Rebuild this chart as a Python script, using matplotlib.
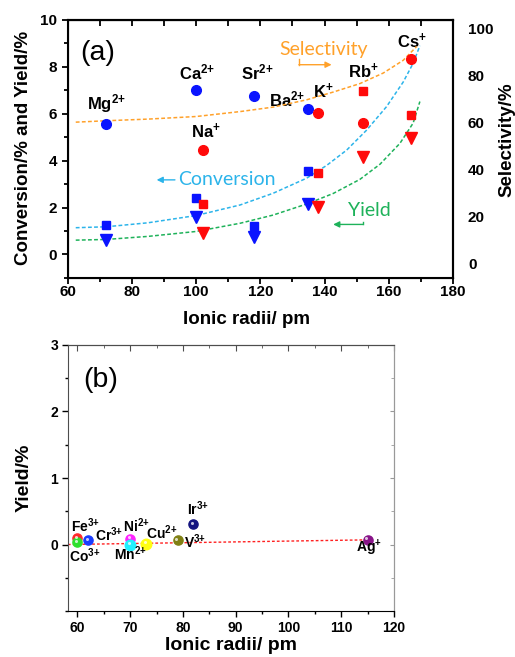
import numpy as np
import matplotlib
matplotlib.use("Agg")
import matplotlib.pyplot as plt
from matplotlib.ticker import MultipleLocator
from matplotlib.transforms import ScaledTranslation

plt.rcParams["font.family"] = ["Liberation Sans", "DejaVu Sans"]
plt.rcParams["mathtext.fontset"] = "custom"
plt.rcParams["mathtext.rm"] = "Liberation Sans:bold"
plt.rcParams["mathtext.it"] = "Liberation Sans:bold"
plt.rcParams["mathtext.bf"] = "Liberation Sans:bold"

# (a) alkaline-earth ions (blue): Mg, Ca, Sr, Ba
ae_ions = ["Mg$^{2{+}}$", "Ca$^{2{+}}$", "Sr$^{2{+}}$", "Ba$^{2{+}}$"]
ae_radii = [72, 100, 118, 135]
ae_conversion = [1.24, 2.39, 1.23, 3.54]
ae_yield = [0.63, 1.60, 0.75, 2.16]
ae_selectivity = [59.3, 73.6, 71.3, 65.8]

# (a) alkali ions (red): Na, K, Rb, Cs
am_ions = ["Na$^{{+}}$", "K$^{{+}}$", "Rb$^{{+}}$", "Cs$^{{+}}$"]
am_radii = [102, 138, 152, 167]
am_conversion = [2.16, 3.49, 6.95, 5.96]
am_yield = [0.92, 2.03, 4.16, 4.97]
am_selectivity = [48.2, 63.8, 59.6, 86.9]

# trend curves, points
sel_trend_x = [62.5, 72, 85, 100, 113.7, 124, 134.4, 142.7, 151, 158.3, 164.5, 168.7]
sel_trend_y = [60.0, 60.6, 61.3, 62.4, 64.5, 66.4, 69.5, 72.8, 76.4, 80.9, 86.3, 92.2]
conv_trend_x = [62.5, 72, 85, 100, 113.7, 124, 134.4, 140.7, 146.9, 153.1, 159.3, 164.5, 167.6, 169.7]
conv_trend_y = [1.14, 1.18, 1.35, 1.66, 2.11, 2.61, 3.25, 3.80, 4.45, 5.30, 6.30, 7.35, 8.15, 8.90]
yield_trend_x = [62.5, 72, 85, 100, 113.7, 124, 134.4, 142.7, 151, 157.3, 163.5, 167.6, 169.7]
yield_trend_y = [0.61, 0.64, 0.77, 0.98, 1.33, 1.68, 2.15, 2.60, 3.20, 3.85, 4.74, 5.60, 6.52]

# (b) other metal ions
tm_ions = ["Fe$^{3{+}}$", "Co$^{3{+}}$", "Cr$^{3{+}}$", "Ni$^{2{+}}$", "Mn$^{2{+}}$",
           "Cu$^{2{+}}$", "V$^{3{+}}$", "Ir$^{3{+}}$", "Ag$^{{+}}$"]
tm_radii = [60, 60, 62, 70, 70, 73, 79, 82, 115]
tm_yield = [0.10, 0.04, 0.065, 0.09, 0.0, 0.015, 0.065, 0.31, 0.075]
tm_colors = ["#ff2a2a", "#2ee02e", "#1a3cff", "#ff22ff", "#22f0ff",
             "#ffff14", "#808014", "#141480", "#881488"]
tm_fit_x = [58.2, 115]
tm_fit_y = [0.0, 0.07]

BLUE = "#0a14ff"
RED = "#ff0a0a"
ORANGE = "#ffa12a"
CYAN = "#2cb4ea"
GREEN = "#1eb25a"

# label anchors (layout only)
ae_label_pos = [(72.1, 6.45), (100.2, 7.74), (118.9, 7.74), (128.2, 6.59)]
am_label_pos = [(103.0, 5.24), (139.6, 6.95), (152.1, 7.80), (167.1, 9.09)]
tm_label_pos = [(58.75, 0.19), (58.43, -0.27), (63.3, 0.06), (68.7, 0.19), (67.0, -0.23),
                (73.1, 0.08), (80.2, -0.06), (80.8, 0.44), (112.8, -0.11)]


def panel_a(fig):
    ax = fig.add_axes([0.1315, 0.577, 0.748, 0.3927])
    ax.set_xlim(60, 180)
    ax.set_ylim(-1, 10)

    ax.plot(conv_trend_x, conv_trend_y, ls=(0, (2.5, 1.5)), color=CYAN, lw=1.1, zorder=2)
    ax.plot(yield_trend_x, yield_trend_y, ls=(0, (2.5, 1.5)), color=GREEN, lw=1.1, zorder=2)

    ax.plot(ae_radii, ae_conversion, "s", color=BLUE, ms=6.2, zorder=3)
    ax.plot(am_radii, am_conversion, "s", color=RED, ms=6.2, zorder=3)
    ax.plot(ae_radii, ae_yield, "v", color=BLUE, ms=8.5, zorder=3)
    ax.plot(am_radii, am_yield, "v", color=RED, ms=8.5, zorder=3)

    for name, (x, y) in zip(ae_ions + am_ions, ae_label_pos + am_label_pos):
        ax.text(x, y, name, ha="center", va="center", fontsize=12, fontweight="bold", zorder=5)

    ax.text(69.3, 8.6, "(a)", ha="center", va="center", fontsize=20.5)

    # colored annotations
    ax.text(139.6, 8.73, "Selectivity", color=ORANGE, family="Lato", fontsize=14,
            ha="center", va="center")
    ax.plot([132.0, 132.0], [8.33, 8.09], color=ORANGE, lw=1)
    ax.annotate("", xy=(142.2, 8.09), xytext=(132.0, 8.09),
                arrowprops=dict(arrowstyle="-|>", color=ORANGE, lw=1, mutation_scale=9,
                                shrinkA=0, shrinkB=0))
    ax.text(109.5, 3.18, "Conversion", color=CYAN, family="Lato", fontsize=14,
            ha="center", va="center")
    ax.annotate("", xy=(87.7, 3.18), xytext=(93.4, 3.18),
                arrowprops=dict(arrowstyle="-|>", color=CYAN, lw=1, mutation_scale=9,
                                shrinkA=0, shrinkB=0))
    ax.text(154.1, 1.89, "Yield", color=GREEN, family="Lato", fontsize=14,
            ha="center", va="center")
    ax.plot([152.1, 152.1], [1.39, 1.28], color=GREEN, lw=1)
    ax.annotate("", xy=(142.7, 1.28), xytext=(152.1, 1.28),
                arrowprops=dict(arrowstyle="-|>", color=GREEN, lw=1, mutation_scale=9,
                                shrinkA=0, shrinkB=0))

    ax.xaxis.set_major_locator(MultipleLocator(20))
    ax.xaxis.set_minor_locator(MultipleLocator(10))
    ax.set_yticks([0, 2, 4, 6, 8, 10])
    ax.yaxis.set_minor_locator(MultipleLocator(1))
    ax.tick_params(axis="x", which="both", direction="out", top=False, labelsize=11, pad=1)
    ax.tick_params(axis="y", which="both", direction="out", left=True, right=True,
                   labelsize=11, pad=3.4)
    ax.tick_params(which="major", length=4.4, width=1.3)
    ax.tick_params(which="minor", length=2.6, width=1.3)
    for lab in ax.get_xticklabels() + ax.get_yticklabels():
        lab.set_fontweight("bold")
    for sp in ax.spines.values():
        sp.set_linewidth(1.5)

    top = ax.secondary_xaxis("top")
    top.set_xticks(np.arange(60, 181, 10))
    top.tick_params(direction="in", length=4.4, width=1.3, labeltop=False)
    top.spines["top"].set_linewidth(1.5)

    ax.set_xlabel("Ionic radii/ pm", fontsize=13.5, fontweight="bold")
    ax.xaxis.set_label_coords(0.465, -0.13)
    ax.set_ylabel("Conversion/% and Yield/%", fontsize=13.5, fontweight="bold",
                  va="center")
    ax.yaxis.set_label_coords(-0.116, 0.502)

    ax2 = ax.twinx()
    ax2.set_ylim(-6.26, 103.5)
    ax2.plot(sel_trend_x, sel_trend_y, ls=(0, (2.5, 1.5)), color=ORANGE, lw=1.1, zorder=2)
    ax2.plot(ae_radii, ae_selectivity, "o", color=BLUE, ms=7, zorder=3)
    ax2.plot(am_radii, am_selectivity, "o", color=RED, ms=7, zorder=3)
    ax2.set_yticks([0, 20, 40, 60, 80, 100])
    ax2.tick_params(axis="y", length=0, labelsize=11, pad=10.8)
    for lab in ax2.get_yticklabels():
        lab.set_fontweight("bold")
    ax2.spines["right"].set_linewidth(1.5)
    ax2.set_ylabel("Selectivity/%", fontsize=13.5, fontweight="bold", va="center")
    ax2.yaxis.set_label_coords(1.141, 0.537)
    return ax


def panel_b(fig):
    ax = fig.add_axes([0.1315, 0.070, 0.6336, 0.4049])
    ax.set_xlim(58.18, 120)
    ax.set_ylim(-1, 3)

    ax.plot(tm_fit_x, tm_fit_y, ls=(0, (2, 1.5)), color="#ff2020", lw=1, zorder=2)

    hl = ax.transData + ScaledTranslation(-0.9 / 72, 0.9 / 72, fig.dpi_scale_trans)
    for x, y, c, name in zip(tm_radii, tm_yield, tm_colors, tm_ions):
        size = 7.6 if name.startswith(("Mn", "Cu")) else 6.6
        ax.plot(x, y, "o", color=c, ms=size, mec=c, zorder=3)
        ax.plot(x, y, "o", color="white", ms=2.2, alpha=0.75, mew=0, transform=hl, zorder=4)

    for name, (x, y) in zip(tm_ions, tm_label_pos):
        ax.text(x, y, name, ha="left", va="baseline", fontsize=10, fontweight="bold", zorder=5)

    ax.text(64.4, 2.47, "(b)", ha="center", va="center", fontsize=20.5)

    ax.xaxis.set_major_locator(MultipleLocator(10))
    ax.xaxis.set_minor_locator(MultipleLocator(5))
    ax.set_yticks([0, 1, 2, 3])
    ax.yaxis.set_minor_locator(MultipleLocator(0.5))
    ax.tick_params(which="both", direction="out", labelsize=10, width=1)
    ax.tick_params(axis="x", pad=3)
    ax.tick_params(axis="y", pad=2.5)
    ax.tick_params(which="major", length=4.3)
    ax.tick_params(which="minor", length=2.5)
    for lab in ax.get_xticklabels() + ax.get_yticklabels():
        lab.set_fontweight("bold")
    ax.spines["left"].set_color("0.3")
    ax.spines["top"].set_color("0.3")
    ax.spines["right"].set_color("0.6")

    top = ax.secondary_xaxis("top")
    top.xaxis.set_major_locator(MultipleLocator(10))
    top.xaxis.set_minor_locator(MultipleLocator(5))
    top.tick_params(which="both", direction="in", labeltop=False, color="0.3")
    top.tick_params(which="major", length=4)
    top.tick_params(which="minor", length=2.5)
    top.spines["top"].set_color("0.3")

    right = ax.secondary_yaxis("right")
    right.yaxis.set_major_locator(MultipleLocator(1))
    right.yaxis.set_minor_locator(MultipleLocator(0.5))
    right.tick_params(which="both", direction="in", labelright=False, color="0.6")
    right.tick_params(which="major", length=3)
    right.tick_params(which="minor", length=2)
    right.spines["right"].set_color("0.6")

    ax.set_xlabel("Ionic radii/ pm", fontsize=14, fontweight="bold")
    ax.xaxis.set_label_coords(0.5, -0.096)
    ax.set_ylabel("Yield/%", fontsize=14, fontweight="bold", va="center")
    ax.yaxis.set_label_coords(-0.135, 0.5)
    return ax


def main():
    fig = plt.figure(figsize=(5.15, 6.57), dpi=100)
    panel_a(fig)
    panel_b(fig)
    fig.savefig("out.png", dpi=100)


if __name__ == "__main__":
    main()
